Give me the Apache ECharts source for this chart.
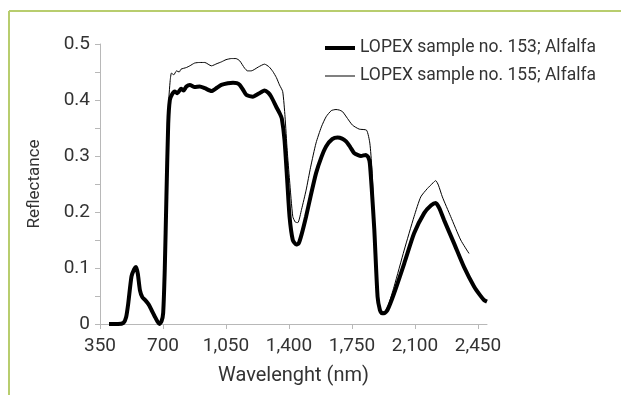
<!DOCTYPE html>
<html>
<head>
<meta charset="utf-8">
<script src="https://cdn.jsdelivr.net/npm/echarts@6/dist/echarts.min.js"></script>
<style>
html,body{margin:0;padding:0;background:#fff;}
#chart{width:621px;height:395px;}
</style>
</head>
<body>
<div id="chart"></div>
<script>
// Wavelength (nm) and reflectance, LOPEX sample no. 153; Alfalfa
var wl153 = [400,450,480,495,507,525,540,550,560,572,585,600,620,636,655,670,680,692,701,710,719,729,738,750,765,780,800,815,830,849,876,904,932,969,1000,1024,1060,1089,1110,1126,1145,1163,1200,1230,1264,1285,1301,1329,1350,1360,1375,1390,1403,1421,1440,1454,1470,1495,1520,1550,1580,1606,1640,1670,1695,1717,1740,1763,1800,1827,1840,1849,1860,1874,1892,1905,1916,1929,1947,1984,2040,2095,2151,2190,2215,2235,2261,2317,2372,2428,2460,2483,2500];
var r153 = [0.0,0.0,0.002,0.012,0.037,0.085,0.098,0.102,0.09,0.06,0.048,0.043,0.035,0.025,0.013,0.004,0.0,0.005,0.02,0.1,0.227,0.358,0.40,0.41,0.415,0.412,0.42,0.417,0.424,0.427,0.423,0.424,0.421,0.416,0.422,0.427,0.430,0.431,0.430,0.427,0.418,0.409,0.406,0.411,0.417,0.413,0.406,0.388,0.375,0.367,0.329,0.257,0.192,0.15,0.142,0.144,0.160,0.192,0.228,0.269,0.298,0.317,0.330,0.333,0.331,0.326,0.316,0.305,0.300,0.302,0.298,0.287,0.240,0.168,0.049,0.025,0.019,0.019,0.025,0.055,0.108,0.162,0.198,0.212,0.216,0.207,0.186,0.144,0.102,0.067,0.052,0.043,0.040];
// LOPEX sample no. 155; Alfalfa
var wl155 = [400,450,480,495,507,525,540,550,560,572,585,600,620,636,655,670,680,692,701,710,720,730,740,747,760,775,790,800,830,849,876,904,932,969,1000,1024,1050,1080,1105,1126,1153,1170,1190,1230,1264,1290,1310,1330,1347,1365,1378,1390,1403,1421,1435,1449,1470,1495,1520,1550,1580,1606,1635,1661,1680,1698,1725,1753,1790,1831,1849,1860,1868,1886,1900,1911,1929,1950,1984,2040,2095,2132,2169,2200,2215,2230,2252,2298,2354,2400];
var r155 = [0.0,0.0,0.002,0.012,0.037,0.085,0.098,0.102,0.09,0.06,0.048,0.043,0.035,0.025,0.013,0.004,0.0,0.005,0.02,0.11,0.26,0.39,0.435,0.448,0.445,0.452,0.450,0.455,0.458,0.461,0.466,0.467,0.467,0.461,0.465,0.468,0.472,0.474,0.474,0.470,0.457,0.452,0.452,0.459,0.464,0.459,0.451,0.440,0.427,0.415,0.370,0.310,0.257,0.192,0.182,0.181,0.205,0.239,0.280,0.323,0.352,0.370,0.381,0.383,0.382,0.379,0.367,0.355,0.348,0.346,0.323,0.280,0.227,0.079,0.035,0.022,0.022,0.032,0.067,0.132,0.192,0.227,0.242,0.252,0.256,0.248,0.227,0.192,0.150,0.126];
var seriesNames = ['LOPEX sample no. 153; Alfalfa','LOPEX sample no. 155; Alfalfa'];
var xTicks = [350,700,1050,1400,1750,2100,2450];
var xTitle = 'Wavelenght (nm)';
var yTitle = 'Reflectance';

function pairs(xs, ys){ return xs.map(function(x,i){ return [x, ys[i]]; }); }

var chart = echarts.init(document.getElementById('chart'), null, {renderer:'canvas'});
var font = 'Roboto, "Noto Sans", sans-serif';
var axisCol = '#b8b8b8';
chart.setOption({
  animation:false,
  backgroundColor:'#ffffff',
  graphic:[
    {type:'line', shape:{x1:9,y1:11,x2:621,y2:11}, style:{stroke:'#b8cd6e', lineWidth:2}},
    {type:'line', shape:{x1:9,y1:11,x2:9,y2:395}, style:{stroke:'#b8cd6e', lineWidth:2}}
  ],
  grid:{left:100,right:134,top:44,bottom:71,containLabel:false},
  legend:{
    orient:'vertical', left:320, top:34, itemWidth:30, itemHeight:14, itemGap:10,
    symbolKeepAspect:true,
    textStyle:{fontFamily:font, fontSize:17.5, color:'#333'},
    data:[
      {name:seriesNames[0], icon:'path://M0,0H30V4H0Z', itemStyle:{color:'#000'}},
      {name:seriesNames[1], icon:'path://M0,0H30V1H0Z', itemStyle:{color:'#000'}}
    ]
  },
  xAxis:{
    type:'value', min:350, max:2500, interval:350,
    name:xTitle, nameLocation:'middle', nameGap:42,
    nameTextStyle:{fontFamily:font, fontSize:20, color:'#333'},
    axisLine:{show:true, lineStyle:{color:axisCol, width:1}},
    axisTick:{show:true, length:5, lineStyle:{color:axisCol}, customValues:xTicks},
    axisLabel:{fontFamily:font, fontSize:19, color:'#333', margin:13, customValues:xTicks,
      formatter:function(v){ return Number(v).toLocaleString('en-US'); }},
    splitLine:{show:false}
  },
  yAxis:{
    type:'value', min:0, max:0.5, interval:0.05,
    name:yTitle, nameLocation:'middle', nameGap:57, nameRotate:90,
    nameTextStyle:{fontFamily:font, fontSize:17, color:'#333'},
    axisLine:{show:true, lineStyle:{color:axisCol, width:1}},
    axisTick:{show:true, length:5, lineStyle:{color:axisCol}},
    axisLabel:{fontFamily:font, fontSize:19, color:'#333', margin:10,
      formatter:function(v){ var k=Math.round(v*100); if(k%10!==0) return ''; return k===0?'0':(k/100).toFixed(1); }},
    splitLine:{show:false}
  },
  series:[
    {name:seriesNames[0], type:'line', data:pairs(wl153,r153), symbol:'none', smooth:0.2,
     lineStyle:{color:'#000', width:4}, itemStyle:{color:'#000'}, z:3},
    {name:seriesNames[1], type:'line', data:pairs(wl155,r155), symbol:'none', smooth:0.2,
     lineStyle:{color:'#000', width:1}, itemStyle:{color:'#000'}, z:2}
  ]
});
</script>
</body>
</html>
